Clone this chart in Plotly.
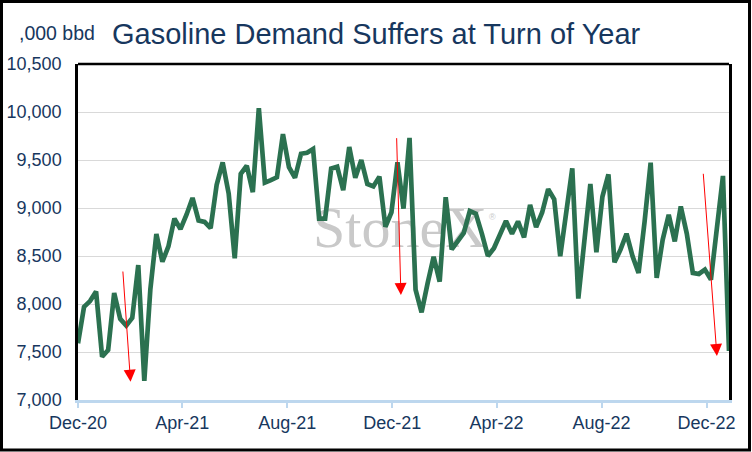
import plotly.graph_objects as go
import pandas as pd

# ---- data ----
start_week = "2020-12-04"
demand = [
    7590, 7970, 8030, 8130, 7450, 7520, 8115, 7845, 7775, 7855,
    8405, 7200, 8150, 8730, 8440, 8600, 8890, 8780, 8930, 9105,
    8870, 8855, 8790, 9240, 9475, 9150, 8475, 9355, 9440, 9165,
    10040, 9265, 9290, 9320, 9770, 9425, 9315, 9565, 9575, 9615,
    8890, 8890, 9410, 9430, 9185, 9635, 9315, 9500, 9250, 9225,
    9327, 8805, 8955, 9476, 8993, 9730, 8150, 7913, 8216, 8492,
    8233, 9113, 8568, 8648, 8741, 8968, 8941, 8734, 8500, 8580,
    8735, 8865, 8732, 8860, 8694, 9033, 8801, 8953, 9196, 9092,
    8497, 8960, 9413, 8057, 8670, 9251, 8538, 9119, 9351, 8434,
    8566, 8732, 8497, 8324, 8860, 9472, 8272, 8670, 8929, 8652,
    9016, 8732, 8324, 8313, 8358, 8254, 8794, 9334, 7510,
]
weeks = pd.date_range(start_week, periods=len(demand), freq="7D")

# arrows: (tail date, tail value, tip date, tip value)
arrow_tails_x = ["2021-01-25", "2021-12-09", "2022-11-30"]
arrow_tails_y = [8354, 9743, 9372]
arrow_tips_x = ["2021-02-03", "2021-12-14", "2022-12-16"]
arrow_tips_y = [7190, 8094, 7458]

title_text = "Gasoline Demand Suffers at Turn of Year"
unit_text = ",000 bbd"
watermark = "StoneX"

navy = "#17375E"
green = "#2B7150"
font_family = "Liberation Sans, Arial, sans-serif"

fig = go.Figure()

# watermark behind the line
fig.add_trace(go.Scatter(
    x=["2021-12-13"], y=[8750], mode="text", text=[watermark],
    textfont=dict(family="Liberation Serif, Times New Roman, serif", size=58, color="#C9C9C9"),
    textposition="middle center", hoverinfo="skip", showlegend=False,
))

fig.add_trace(go.Scatter(
    x=weeks, y=demand, mode="lines",
    line=dict(color=green, width=4.7, shape="linear"),
    showlegend=False,
))

for tx, ty, hx, hy in zip(arrow_tails_x, arrow_tails_y, arrow_tips_x, arrow_tips_y):
    fig.add_annotation(
        x=hx, y=hy, ax=tx, ay=ty, xref="x", yref="y", axref="x", ayref="y",
        text="", showarrow=True, arrowhead=2, arrowsize=2.4, arrowwidth=1,
        arrowcolor="#FF0000",
    )

# registered mark
fig.add_annotation(x=0.636, y=0.545, xref="paper", yref="paper", text="®",
                   showarrow=False, font=dict(size=9, color="#C9C9C9", family=font_family))

# unit label
fig.add_annotation(x=-0.094, y=1.092, xref="paper", yref="paper", text=unit_text,
                   xanchor="left", yanchor="middle", showarrow=False,
                   font=dict(size=19.5, color=navy, family=font_family))

# top border of plot area
fig.add_shape(type="line", xref="paper", yref="paper", x0=0, x1=1, y0=1, y1=1,
              line=dict(color="black", width=2.5))
# outer frame
fig.add_shape(type="rect", xref="paper", yref="paper",
              x0=(1.5 - 78) / 651, x1=(749.5 - 78) / 651,
              y0=(400 - 450) / 336, y1=(400 - 1.5) / 336,
              line=dict(color="black", width=3), fillcolor="rgba(0,0,0,0)", layer="above")

fig.update_layout(
    width=752, height=452,
    margin=dict(l=78, r=23, t=64, b=52, autoexpand=False),
    paper_bgcolor="white", plot_bgcolor="white",
    font=dict(family=font_family, color=navy),
    title=dict(text=title_text, x=112 / 752, xanchor="left", xref="container",
               y=1 - 34 / 452, yanchor="middle", yref="container",
               font=dict(size=29, color=navy, family=font_family)),
    xaxis=dict(
        type="date", range=[weeks[0], weeks[-1]], automargin=False,
        tick0=start_week, dtick="M4", tickformat="%b-%y",
        showgrid=False, zeroline=False,
        showline=True, linecolor="#BDD7EE", linewidth=2.5,
        ticks="outside", ticklen=5, tickcolor="#BDD7EE", tickwidth=1.5,
        tickfont=dict(size=18, color=navy, family=font_family),
        ticklabelstandoff=0,
    ),
    yaxis=dict(
        range=[7000, 10500], dtick=500, tickformat=",", automargin=False,
        showgrid=True, gridcolor="#D9D9D9", gridwidth=1, zeroline=False,
        showline=True, linecolor="black", linewidth=2.5, mirror=True,
        ticks="", tickfont=dict(size=18, color=navy, family=font_family),
        ticklabelstandoff=10,
    ),
)

fig.write_html("out.html", config={"displayModeBar": False},
               post_script="document.body.style.margin='0';")
